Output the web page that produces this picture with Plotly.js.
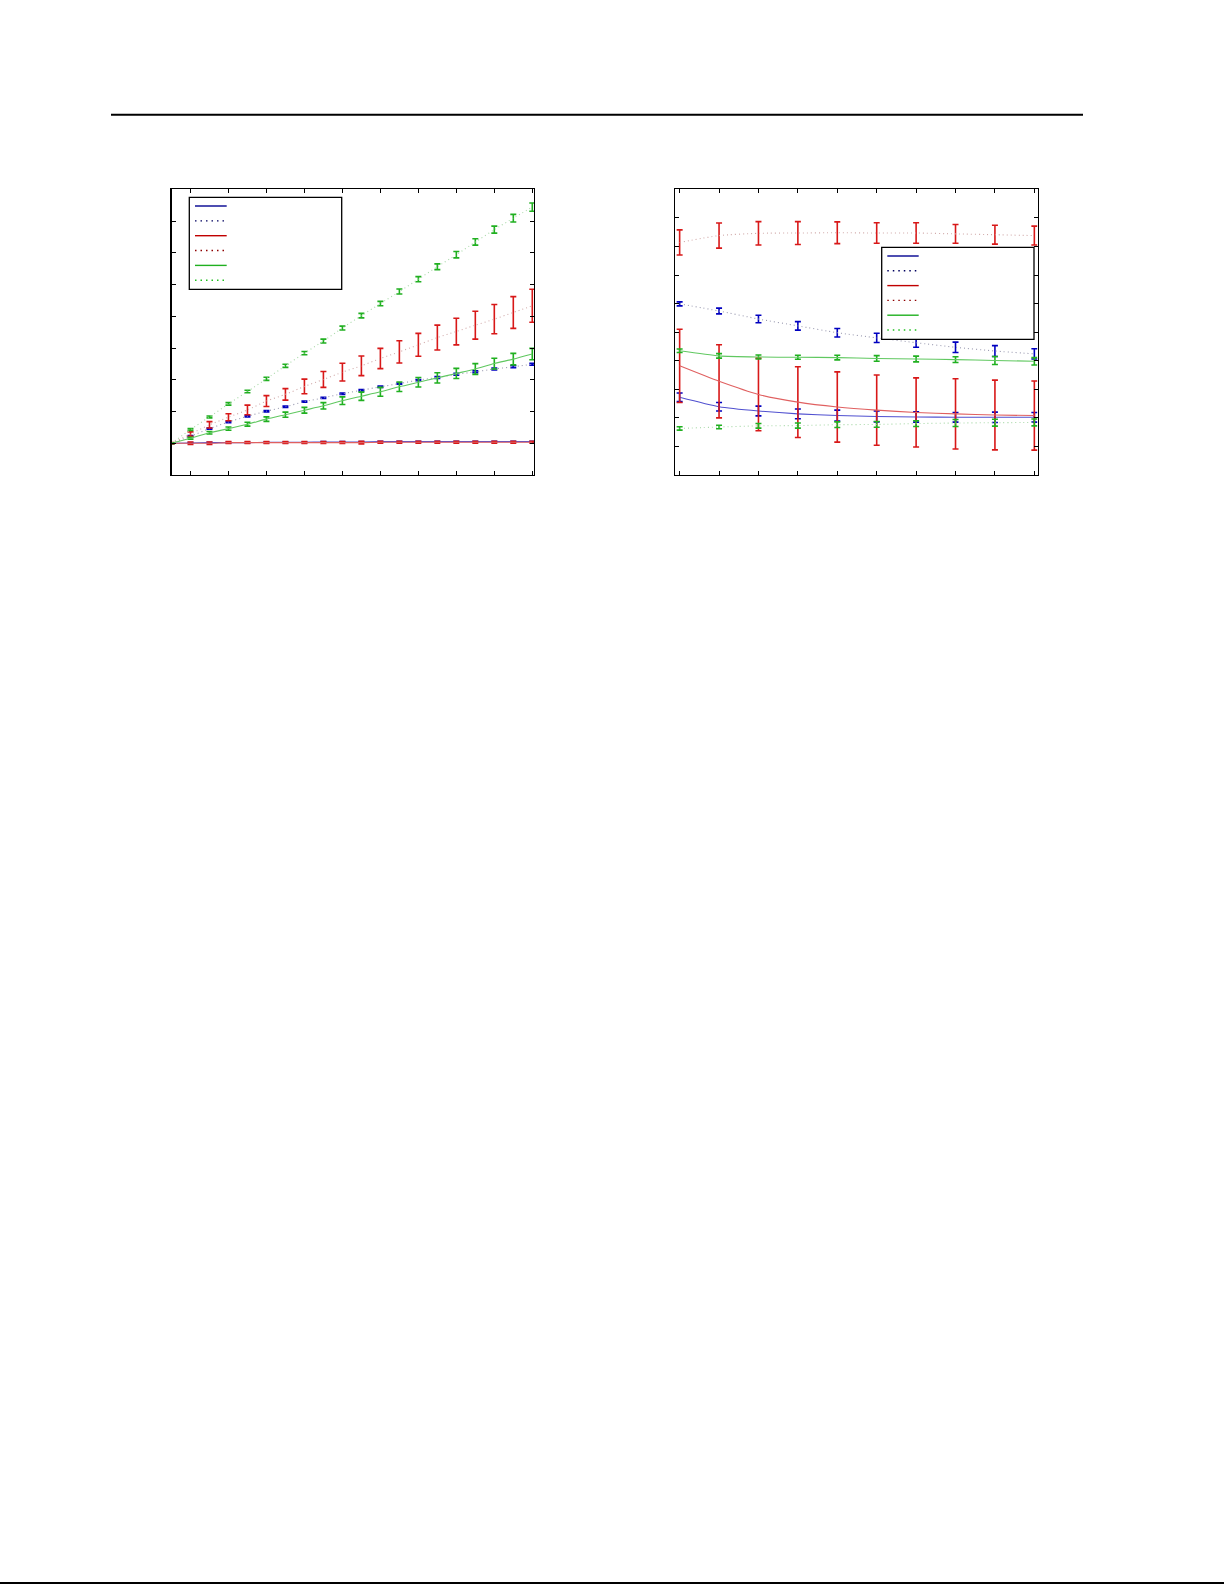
<!DOCTYPE html>
<html>
<head>
<meta charset="utf-8">
<script src="https://cdn.plot.ly/plotly-3.0.1.min.js"></script>
<style>
  html, body { margin: 0; padding: 0; background: #fff; }
  #page { width: 1225px; height: 1585px; }
</style>
</head>
<body>
<div id="page"></div>
<script>
'use strict';

// left panel: 20 steps
var stepsA = [0, 1, 2, 3, 4, 5, 6, 7, 8, 9, 10, 11, 12, 13, 14, 15, 16, 17, 18, 19];
var blueSolidA = [0, 0.01, 0.02, 0.02, 0.02, 0.03, 0.03, 0.03, 0.04, 0.04, 0.04, 0.05, 0.05, 0.05, 0.05, 0.05, 0.05, 0.05, 0.05, 0.05];
var blueSolidErrA = [0.01, 0.01, 0.01, 0.01, 0.01, 0.01, 0.01, 0.01, 0.01, 0.01, 0.01, 0.01, 0.01, 0.01, 0.01, 0.01, 0.01, 0.01, 0.01, 0.01];
var blueDotA = [0, 0.22, 0.46, 0.67, 0.85, 1.01, 1.15, 1.31, 1.43, 1.56, 1.67, 1.78, 1.88, 1.99, 2.07, 2.17, 2.25, 2.34, 2.41, 2.49];
var blueDotErrA = [0.01, 0.02, 0.02, 0.02, 0.02, 0.02, 0.02, 0.02, 0.02, 0.02, 0.02, 0.02, 0.02, 0.02, 0.03, 0.03, 0.03, 0.03, 0.03, 0.03];
var redSolidA = [0, 0.0, 0.0, 0.02, 0.02, 0.02, 0.02, 0.02, 0.02, 0.02, 0.02, 0.03, 0.03, 0.03, 0.03, 0.03, 0.03, 0.03, 0.03, 0.03];
var redSolidErrA = [0.01, 0.04, 0.04, 0.03, 0.03, 0.03, 0.03, 0.03, 0.03, 0.03, 0.04, 0.03, 0.03, 0.03, 0.03, 0.03, 0.03, 0.03, 0.03, 0.03];
var redDotA = [0, 0.29, 0.58, 0.82, 1.05, 1.33, 1.54, 1.79, 2.01, 2.24, 2.44, 2.67, 2.88, 3.1, 3.33, 3.52, 3.72, 3.91, 4.12, 4.33];
var redDotErrA = [0.02, 0.07, 0.1, 0.11, 0.15, 0.17, 0.18, 0.23, 0.25, 0.28, 0.31, 0.32, 0.35, 0.36, 0.39, 0.42, 0.44, 0.46, 0.5, 0.52];
var greenSolidA = [0, 0.16, 0.33, 0.46, 0.6, 0.76, 0.9, 1.04, 1.18, 1.34, 1.48, 1.62, 1.78, 1.92, 2.06, 2.2, 2.34, 2.51, 2.65, 2.81];
var greenSolidErrA = [0.01, 0.03, 0.04, 0.05, 0.06, 0.07, 0.08, 0.09, 0.1, 0.12, 0.13, 0.14, 0.15, 0.15, 0.16, 0.16, 0.17, 0.17, 0.18, 0.18];
var greenDotA = [0, 0.43, 0.83, 1.24, 1.63, 2.03, 2.44, 2.84, 3.22, 3.63, 4.02, 4.4, 4.78, 5.17, 5.56, 5.94, 6.34, 6.73, 7.09, 7.44];
var greenDotErrA = [0.01, 0.03, 0.03, 0.04, 0.04, 0.05, 0.05, 0.05, 0.06, 0.06, 0.07, 0.07, 0.08, 0.08, 0.09, 0.1, 0.1, 0.11, 0.12, 0.13];

// right panel: 10 steps
var stepsB = [1, 2, 3, 4, 5, 6, 7, 8, 9, 10];
var blueSolidB = [2.72, 2.39, 2.24, 2.14, 2.08, 2.05, 2.03, 2.02, 2.02, 2.02];
var blueSolidErrB = [0.15, 0.15, 0.17, 0.17, 0.19, 0.19, 0.18, 0.17, 0.18, 0.17];
var blueDotB = [5.99, 5.74, 5.46, 5.22, 4.98, 4.8, 4.63, 4.47, 4.34, 4.24];
var blueDotErrB = [0.07, 0.1, 0.13, 0.15, 0.15, 0.16, 0.16, 0.18, 0.19, 0.18];
var redSolidB = [3.82, 3.28, 2.82, 2.55, 2.38, 2.27, 2.19, 2.14, 2.1, 2.08];
var redSolidErrB = [1.28, 1.28, 1.27, 1.24, 1.23, 1.23, 1.21, 1.23, 1.22, 1.21];
var redDotB = [8.14, 8.38, 8.46, 8.47, 8.48, 8.47, 8.47, 8.44, 8.41, 8.38];
var redDotErrB = [0.44, 0.44, 0.41, 0.4, 0.38, 0.36, 0.36, 0.33, 0.33, 0.33];
var greenSolidB = [4.35, 4.17, 4.13, 4.12, 4.11, 4.08, 4.06, 4.04, 4.01, 3.98];
var greenSolidErrB = [0.06, 0.08, 0.07, 0.07, 0.08, 0.1, 0.1, 0.1, 0.14, 0.13];
var greenDotB = [1.63, 1.68, 1.72, 1.73, 1.76, 1.77, 1.8, 1.82, 1.83, 1.84];
var greenDotErrB = [0.06, 0.06, 0.08, 0.09, 0.1, 0.1, 0.1, 0.12, 0.12, 0.12];

// series styles (same order as legend)
var lineColors = ['#5050d0', '#9a9ab0', '#e06060', '#d0a8a8', '#60c860', '#a8d8a8'];
var barColors = ['#0000c0', '#0000c0', '#d81818', '#d81818', '#20b020', '#20b020'];
var legendColors = ['#000090', '#000060', '#c00000', '#900000', '#20b020', '#20c020'];
var dashes = ['solid', '1px,3px', 'solid', '1px,3px', 'solid', '1px,3px'];

var W = 1225, H = 1585;
function px(x) { return x / W; }
function py(y) { return 1 - y / H; }

function makeTrace(x, y, err, i, xa, ya) {
	return {
		x: x,
		y: y,
		type: 'scatter',
		mode: 'lines',
		xaxis: xa,
		yaxis: ya,
		line: { color: lineColors[i], width: 1.1, dash: dashes[i], shape: 'spline', smoothing: 0.6 },
		error_y: { type: 'data', array: err, visible: true, color: barColors[i], thickness: 1.6, width: 3 },
		hoverinfo: 'none',
		showlegend: false,
	};
}

var seriesA = [
	[blueSolidA, blueSolidErrA], [blueDotA, blueDotErrA],
	[redSolidA, redSolidErrA], [redDotA, redDotErrA],
	[greenSolidA, greenSolidErrA], [greenDotA, greenDotErrA],
];
var seriesB = [
	[blueSolidB, blueSolidErrB], [blueDotB, blueDotErrB],
	[redSolidB, redSolidErrB], [redDotB, redDotErrB],
	[greenSolidB, greenSolidErrB], [greenDotB, greenDotErrB],
];

var traces = [];
seriesA.forEach(function (s, i) { traces.push(makeTrace(stepsA, s[0], s[1], i, 'x', 'y')); });
seriesB.forEach(function (s, i) { traces.push(makeTrace(stepsB, s[0], s[1], i, 'x2', 'y2')); });

// hand drawn legend boxes (no text in the original)
function legendShapes(x0, y0, x1, y1, lx0, lx1, rowY, rowStep) {
	var out = [{
		type: 'rect', xref: 'paper', yref: 'paper',
		x0: px(x0), x1: px(x1), y0: py(y0), y1: py(y1),
		line: { color: '#000', width: 1.3 }, fillcolor: '#fff', layer: 'above',
	}];
	for (var i = 0; i < 6; i++) {
		var yy = rowY + i * rowStep;
		out.push({
			type: 'line', xref: 'paper', yref: 'paper',
			x0: px(lx0), x1: px(lx1), y0: py(yy), y1: py(yy),
			line: { color: legendColors[i], width: 1.4, dash: i % 2 ? '1.5px,4px' : 'solid' },
			layer: 'above',
		});
	}
	return out;
}

var axisBase = {
	showline: true,
	mirror: 'ticks',
	linecolor: '#000',
	linewidth: 1.2,
	ticks: 'inside',
	ticklen: 4,
	tickcolor: '#000',
	tickwidth: 1,
	showgrid: false,
	zeroline: false,
	showticklabels: false,
	fixedrange: true,
};

var layout = {
	width: W,
	height: H,
	margin: { l: 0, r: 0, t: 0, b: 0, pad: 0 },
	paper_bgcolor: '#fff',
	plot_bgcolor: '#fff',
	showlegend: false,
	xaxis: Object.assign({}, axisBase, { domain: [px(171.5), px(534)], range: [0, 19.09], tick0: 1, dtick: 2, anchor: 'y' }),
	yaxis: Object.assign({}, axisBase, { domain: [py(475), py(189.3)], range: [-1, 8], tick0: 0, dtick: 1, anchor: 'x' }),
	xaxis2: Object.assign({}, axisBase, { domain: [px(675.3), px(1037.5)], range: [0.89, 10.08], tick0: 1, dtick: 1, anchor: 'y2' }),
	yaxis2: Object.assign({}, axisBase, { domain: [py(475), py(189.3)], range: [0, 10], tick0: 0, dtick: 1, anchor: 'x2' }),
	shapes: [
		// page rules
		{ type: 'line', xref: 'paper', yref: 'paper', x0: px(111), x1: px(1083), y0: py(114.7), y1: py(114.7), line: { color: '#000', width: 2 } },
		{ type: 'line', xref: 'paper', yref: 'paper', x0: 0, x1: px(1224), y0: py(1583), y1: py(1583), line: { color: '#000', width: 2 } },
	]
		.concat(legendShapes(189.3, 197.3, 341.7, 289.3, 195, 226.7, 206, 14.85))
		.concat(legendShapes(881.7, 247.3, 1034, 339.3, 887.3, 918.7, 256, 14.8)),
};

Plotly.newPlot('page', traces, layout, { staticPlot: true });
</script>
</body>
</html>
